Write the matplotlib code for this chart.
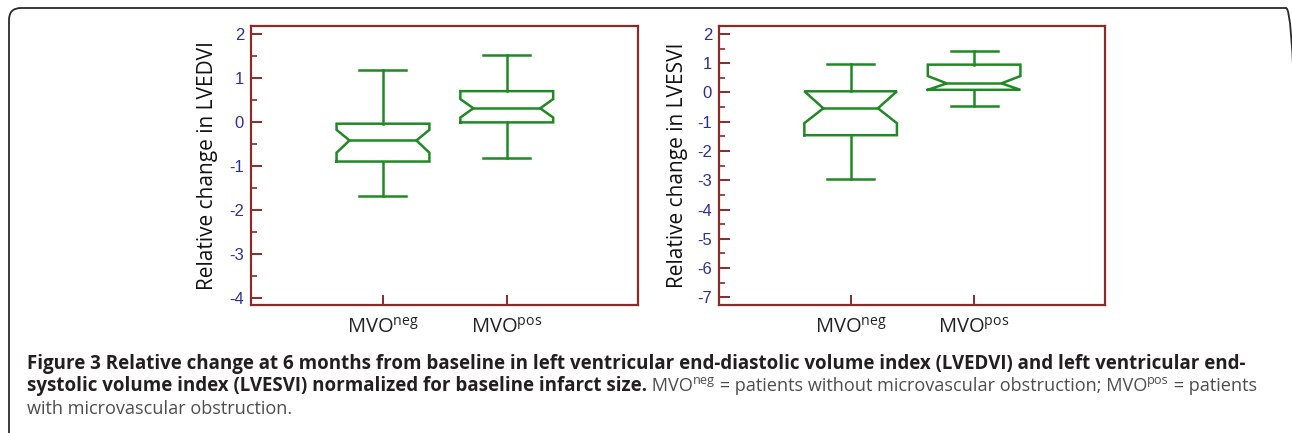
import matplotlib
matplotlib.use('Agg')
import matplotlib.pyplot as plt
from matplotlib.patches import FancyBboxPatch
from matplotlib.ticker import MultipleLocator
from matplotlib.transforms import IdentityTransform

plt.rcParams['mathtext.fontset'] = 'custom'
plt.rcParams['mathtext.rm'] = 'Open Sans'
plt.rcParams['mathtext.it'] = 'Open Sans:italic'
plt.rcParams['mathtext.bf'] = 'Open Sans:bold'

# ---------------- data ----------------
groups = ['neg', 'pos']
group_labels = ['MVO$^{\\mathrm{neg}}$', 'MVO$^{\\mathrm{pos}}$']

# LVEDVI panel
lvedvi_whisker_low = [-1.68, -0.82]
lvedvi_q1 = [-0.90, -0.01]
lvedvi_notch_low = [-0.70, 0.10]
lvedvi_median = [-0.42, 0.31]
lvedvi_notch_high = [-0.18, 0.52]
lvedvi_q3 = [-0.04, 0.70]
lvedvi_whisker_high = [1.18, 1.53]
lvedvi_yticks = [2, 1, 0, -1, -2, -3, -4]

# LVESVI panel
lvesvi_whisker_low = [-2.96, -0.46]
lvesvi_q1 = [-1.46, 0.09]
lvesvi_notch_low = [-1.05, 0.09]
lvesvi_median = [-0.54, 0.31]
lvesvi_notch_high = [0.04, 0.56]
lvesvi_q3 = [0.04, 0.95]
lvesvi_whisker_high = [0.96, 1.40]
lvesvi_yticks = [2, 1, 0, -1, -2, -3, -4, -5, -6, -7]

ylabels = ['Relative change in LVEDVI', 'Relative change in LVESVI']

caption_line1 = ('Figure 3 Relative change at 6 months from baseline in left ventricular '
                 'end-diastolic volume index (LVEDVI) and left ventricular end-')
caption_line2_bold = 'systolic volume index (LVESVI) normalized for baseline infarct size.'
caption_line3 = 'with microvascular obstruction.'

# ---------------- style ----------------
W, H = 1292, 433
spine_c = '#8b2a2a'
box_c = '#1f8a24'
tick_c = '#2e2e96'

fig = plt.figure(figsize=(W / 100, H / 100), dpi=100)

def draw_box(ax, pos, wl, q1, nl, med, nh, q3, wh, box_w=0.75, cap_w=0.38, notch_frac=0.72):
    L, R = pos - box_w / 2, pos + box_w / 2
    nL, nR = pos - box_w * notch_frac / 2, pos + box_w * notch_frac / 2
    xs = [L, L, nL, L, L, R, R, nR, R, R, L]
    ys = [q1, nl, med, nh, q3, q3, nh, med, nl, q1, q1]
    kw = dict(color=box_c, lw=1.8, solid_joinstyle='miter')
    ax.plot(xs, ys, **kw)
    ax.plot([nL, nR], [med, med], **kw)
    ax.plot([pos, pos], [q3, wh], **kw)
    ax.plot([pos, pos], [q1, wl], **kw)
    ax.plot([pos - cap_w / 2, pos + cap_w / 2], [wh, wh], **kw)
    ax.plot([pos - cap_w / 2, pos + cap_w / 2], [wl, wl], **kw)

panels = [
    dict(rect=[251 / W, 1 - 305 / H, 387 / W, 279 / H], ylim=(-4.16, 2.18),
         yticks=lvedvi_yticks, notch=0.72, lx=(218 - 251) / 387,
         stats=(lvedvi_whisker_low, lvedvi_q1, lvedvi_notch_low, lvedvi_median,
                lvedvi_notch_high, lvedvi_q3, lvedvi_whisker_high)),
    dict(rect=[719 / W, 1 - 305 / H, 386 / W, 279 / H], ylim=(-7.26, 2.27),
         yticks=lvesvi_yticks, notch=0.59, lx=(688 - 719) / 386,
         stats=(lvesvi_whisker_low, lvesvi_q1, lvesvi_notch_low, lvesvi_median,
                lvesvi_notch_high, lvesvi_q3, lvesvi_whisker_high)),
]

positions = [1, 2]
for p, ylab in zip(panels, ylabels):
    ax = fig.add_axes(p['rect'])
    for i, pos in enumerate(positions):
        vals = [s[i] for s in p['stats']]
        draw_box(ax, pos, *vals, notch_frac=p['notch'])
    ax.set_xlim(-0.066, 3.06)
    ax.set_ylim(*p['ylim'])
    ax.set_yticks(p['yticks'])
    ax.set_yticklabels([str(t) for t in p['yticks']], fontfamily='Liberation Sans',
                       fontsize=12, color=tick_c)
    ax.yaxis.set_minor_locator(MultipleLocator(0.5))
    ax.set_xticks(positions)
    ax.set_xticklabels(group_labels, fontfamily='Open Sans', fontsize=14.5, color='#222222')
    ax.tick_params(axis='y', which='major', direction='in', length=8, width=1.4,
                   color=spine_c, pad=5)
    ax.tick_params(axis='y', which='minor', direction='in', length=4, width=1.2,
                   color=spine_c)
    ax.tick_params(axis='x', which='major', direction='in', length=7, width=1.4,
                   color=spine_c, pad=9)
    for s in ax.spines.values():
        s.set_color(spine_c)
        s.set_linewidth(1.6)
    ax.set_ylabel(ylab, fontfamily='Open Sans', fontsize=15, color='#111111')
    ax.yaxis.set_label_coords(p['lx'], 0.5)

# ---------------- border ----------------
border = FancyBboxPatch((9, -30), 1289, 433 - 8 + 30,
                        boxstyle='round,pad=0,rounding_size=12',
                        transform=IdentityTransform(), fill=False,
                        edgecolor='#2a2a2a', lw=1.3)
fig.patches.append(border)

# ---------------- caption ----------------
renderer = fig.canvas.get_renderer()
bold_c = '#231f20'
reg_c = '#4d4d4d'

def place(x, y_base, txt, weight, color, size):
    t = fig.text(x / W, 1 - y_base / H, txt, fontfamily='Open Sans', fontweight=weight,
                 color=color, fontsize=size, va='baseline', ha='left')
    bb = t.get_window_extent(renderer)
    return x + bb.width

# fit caption size to the reference width of line 1
probe = fig.text(0, 0, caption_line1, fontfamily='Open Sans', fontweight='bold', fontsize=10)
w10 = probe.get_window_extent(renderer).width
probe.remove()
cs = 10 * 1220 / w10
rs = cs * 0.97
sup = rs * 0.7

x0 = 27
place(x0, 369, caption_line1, 'bold', bold_c, cs)

x = place(x0, 391, caption_line2_bold, 'bold', bold_c, cs)
x = place(x, 391, ' MVO', 'normal', reg_c, rs)
x = place(x, 384, groups[0], 'normal', reg_c, sup)
x = place(x, 391, ' = patients without microvascular obstruction; MVO', 'normal', reg_c, rs)
x = place(x, 384, groups[1], 'normal', reg_c, sup)
x = place(x, 391, ' = patients', 'normal', reg_c, rs)

place(x0, 414, caption_line3, 'normal', reg_c, rs)

fig.savefig('out.png', dpi=100)
